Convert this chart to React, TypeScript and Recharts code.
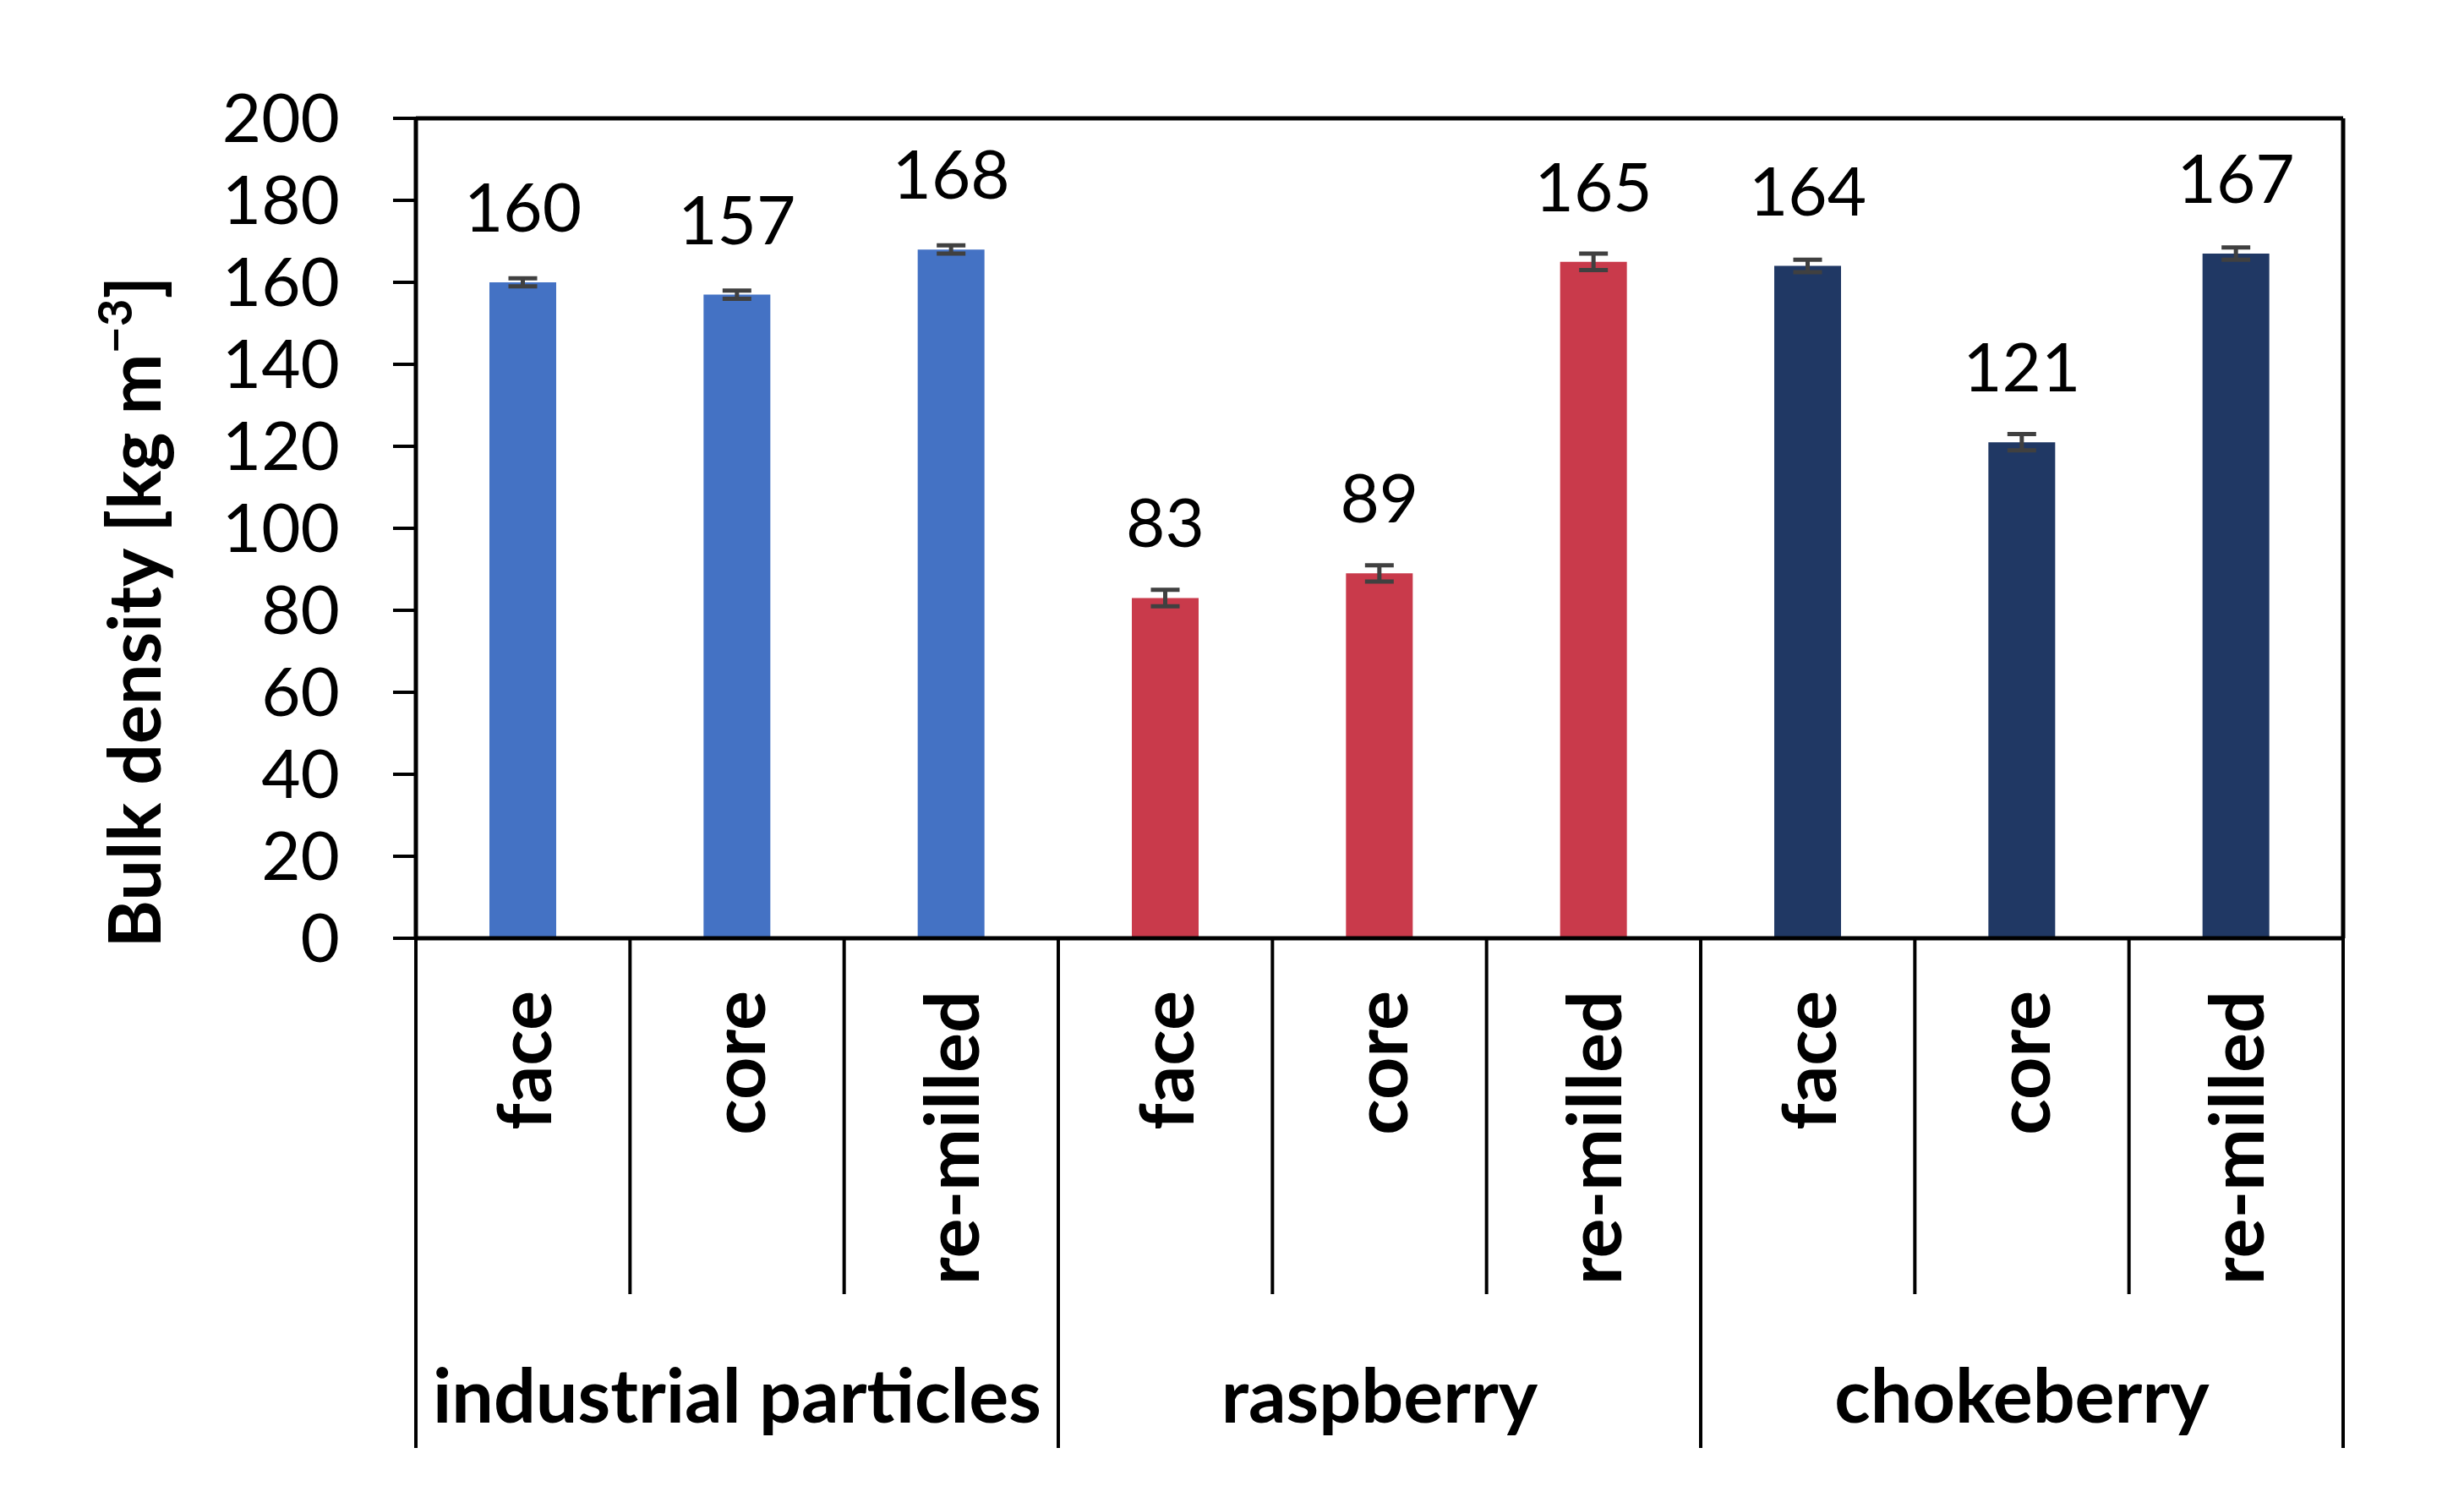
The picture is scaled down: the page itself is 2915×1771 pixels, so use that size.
import React from "react";
import {
  ComposedChart,
  Bar,
  Cell,
  ErrorBar,
  LabelList,
  XAxis,
  YAxis,
} from "recharts";

const subLabels = ["face", "core", "re-milled", "face", "core", "re-milled", "face", "core", "re-milled"];
const groupLabels = ["industrial particles", "raspberry", "chokeberry"];
const values = [160, 157, 168, 83, 89, 165, 164, 121, 167];
const errors = [1, 1, 1, 2, 2, 2, 1.5, 2, 1.5];
const groupColors = ["#4472C4", "#C93A4B", "#203864"];
const yTicks = [0, 20, 40, 60, 80, 100, 120, 140, 160, 180, 200];

const W = 2915;
const H = 1771;
const MARGIN = { top: 139, right: 142, left: 0, bottom: 0 };
const Y_W = 492;
const X_H = 661;
const HALF_BAND = (W - MARGIN.right - 1 - Y_W) / subLabels.length / 2;
const FONT = "Lato, 'Open Sans', sans-serif";

const data = values.map((v, i) => ({
  key: `${groupLabels[Math.floor(i / 3)]}-${subLabels[i]}`,
  sub: subLabels[i],
  group: groupLabels[Math.floor(i / 3)],
  value: v,
  err: errors[i],
}));

function CategoryTick(props: any) {
  const { x, y, index } = props;
  const sub = subLabels[index];
  const first = index % 3 === 0;
  const last = index === subLabels.length - 1;
  return (
    <g>
      <line
        x1={x - HALF_BAND}
        x2={x - HALF_BAND}
        y1={y}
        y2={y + (first ? 603 : 421)}
        stroke="#000"
        strokeWidth={4}
      />
      {last && (
        <line x1={x + HALF_BAND} x2={x + HALF_BAND} y1={y} y2={y + 603} stroke="#000" strokeWidth={4} />
      )}
      <text
        x={x + 33}
        y={y + 62}
        transform={`rotate(-90, ${x + 33}, ${y + 62})`}
        textAnchor="end"
        fontFamily={FONT}
        fontWeight={700}
        fontSize={88}
        fill="#000"
      >
        {sub}
      </text>
      {index % 3 === 1 && (
        <text
          x={x}
          y={y + 573}
          textAnchor="middle"
          fontFamily={FONT}
          fontWeight={700}
          fontSize={88}
          fill="#000"
        >
          {groupLabels[Math.floor(index / 3)]}
        </text>
      )}
    </g>
  );
}

function YTitle() {
  const cx = 190;
  const cy = 724;
  return (
    <text
      x={cx}
      y={cy}
      transform={`rotate(-90, ${cx}, ${cy})`}
      textAnchor="middle"
      fontFamily={FONT}
      fontWeight={700}
      fontSize={86}
      fill="#000"
    >
      Bulk density [kg m
      <tspan dy={-34} fontSize={56}>−3</tspan>
      <tspan dy={34}>]</tspan>
    </text>
  );
}

export default function App() {
  return (
    <div
      style={{
        position: "absolute",
        left: 0,
        top: 0,
        width: W,
        height: H,
        background: "#fff",
        fontFamily: FONT,
      }}
    >
      <ComposedChart width={W} height={H} data={data} margin={MARGIN}>
        <XAxis
          dataKey="key"
          height={X_H}
          interval={0}
          tickLine={false}
          tickSize={0}
          tickMargin={0}
          axisLine={{ stroke: "#000", strokeWidth: 5 }}
          tick={<CategoryTick />}
        />
        <XAxis
          xAxisId="top"
          dataKey="key"
          orientation="top"
          height={1}
          tick={false}
          tickLine={false}
          axisLine={{ stroke: "#000", strokeWidth: 5 }}
        />
        <YAxis
          width={Y_W}
          domain={[0, 200]}
          ticks={yTicks}
          interval={0}
          tickSize={27}
          tickMargin={63}
          tickLine={{ stroke: "#000", strokeWidth: 4 }}
          axisLine={{ stroke: "#000", strokeWidth: 5 }}
          tick={{ fill: "#000", fontSize: 80, fontFamily: FONT }}
          label={{ content: () => <YTitle /> }}
        />
        <YAxis
          yAxisId="right"
          orientation="right"
          width={1}
          domain={[0, 200]}
          tick={false}
          tickLine={false}
          axisLine={{ stroke: "#000", strokeWidth: 5 }}
        />
        <Bar dataKey="value" barSize={79} isAnimationActive={false}>
          {data.map((d, i) => (
            <Cell key={d.key} fill={groupColors[Math.floor(i / 3)]} />
          ))}
          <ErrorBar dataKey="err" direction="y" width={17} stroke="#404040" strokeWidth={5} />
          <LabelList
            dataKey="value"
            position="top"
            offset={60}
            fill="#000"
            fontSize={80}
            fontFamily={FONT}
          />
        </Bar>
      </ComposedChart>
    </div>
  );
}
